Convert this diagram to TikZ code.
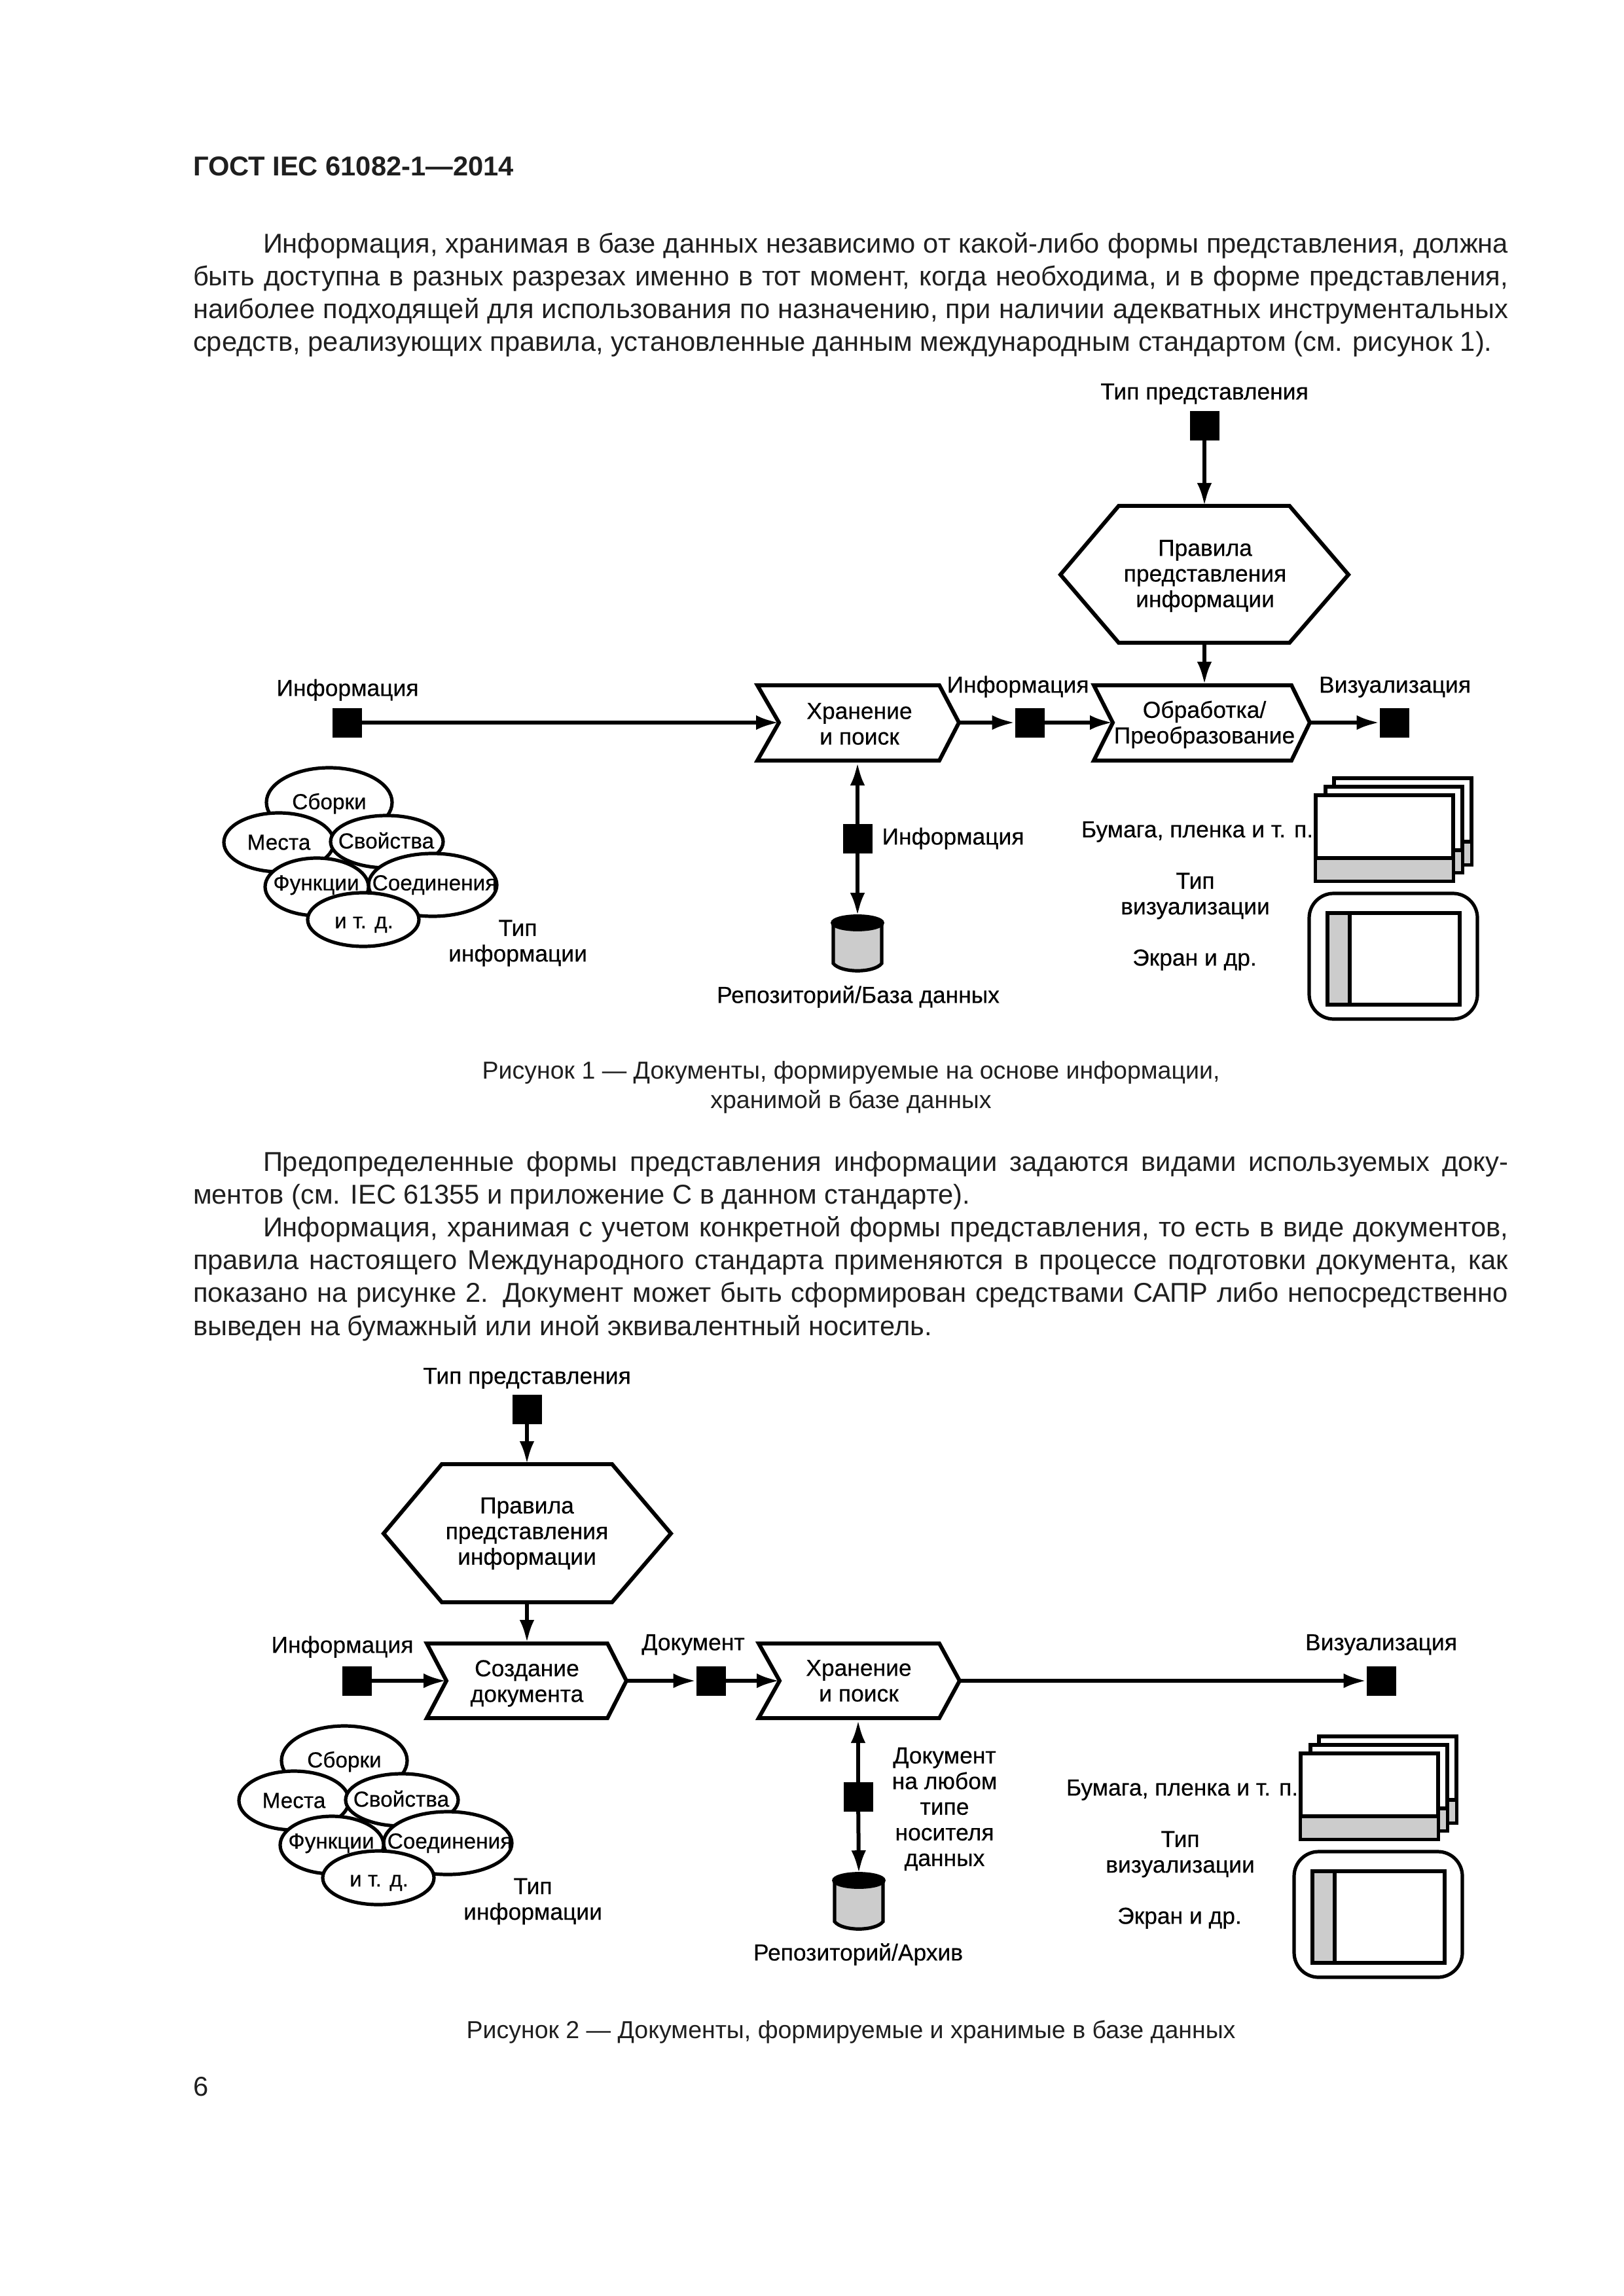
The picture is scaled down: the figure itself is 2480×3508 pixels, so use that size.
\documentclass[tikz,border=0pt]{standalone}
\usepackage{fontspec}
\setmainfont{Liberation Sans}
\newfontfamily\diagfam{Liberation Sans}[FakeBold=0.4]
\usetikzlibrary{arrows.meta,shapes.geometric}
\newcommand\bodyf{\fontsize{10}{12}\selectfont}
\newcommand\capf{\fontsize{9}{12}\selectfont}
\newcommand\diagf{\diagfam\fontsize{8.5}{9.4}\selectfont}
\newcommand\ellf{\diagfam\fontsize{8}{9.4}\selectfont}
\tikzset{
  txtline/.style={anchor=base west,inner sep=0pt,outer sep=0pt,font=\bodyf,text=black!88},
  captxt/.style={anchor=base,inner sep=0pt,outer sep=0pt,font=\capf,align=center,text=black!88},
  lab/.style={inner sep=0pt,outer sep=0pt,font=\diagf,align=center,text height=6.5pt,text depth=2pt},
  elab/.style={inner sep=0pt,outer sep=0pt,font=\ellf,align=center,text height=6.5pt,text depth=2pt},
  labm/.style={inner sep=0pt,outer sep=0pt,font=\diagf,align=center},
  outl/.style={draw=black,line width=1.44pt,fill=white,line join=miter},
  conn/.style={draw=black,line width=1.44pt},
  tipa/.style={-{Latex[length=8.4pt,width=5.4pt]}},
  sq/.style={fill=black,inner sep=0pt,outer sep=0pt,minimum width=10.8pt,minimum height=10.8pt},
  ell/.style={ellipse,draw=black,fill=white,line width=1.25pt,inner sep=0pt,outer sep=0pt},
  thin box/.style={draw=black,line width=1.25pt},
  grayfill/.style={fill=black!20},
}
% cluster of ellipses, placed by the surrounding scope
\newcommand\infocluster{%
  \node[ell,minimum width=46.08pt,minimum height=25.44pt] (e1) at (503,1226) {};
  \node[ell,minimum width=40.32pt,minimum height=21.6pt] (e2) at (426,1287) {};
  \node[ell,minimum width=41.28pt,minimum height=19.2pt] (e3) at (591,1286) {};
  \node[ell,minimum width=47.04pt,minimum height=23.04pt] (e5) at (661,1352) {};
  \node[ell,minimum width=37.92pt,minimum height=21.12pt] (e4) at (484,1355) {};
  \node[ell,minimum width=40.8pt,minimum height=19.68pt] (e6) at (555,1405) {};
  \node[elab] (t1) at (503,1227) {Сборки};
  \node[elab] (t2) at (426,1289) {Места};
  \node[elab] (t3) at (590,1287) {Свойства};
  \node[elab] (t4) at (483,1351) {Функции};
  \node[elab] (t5) at (664,1351) {Соединения};
  \node[elab] (t6) at (556,1409) {и т. д.};
  \node[labm] (t7) at (791,1441) {Тип\\информации};
}
% storage media pictures
\newcommand\mediapics{%
  \draw[thin box,fill=white] (2038,1189) rectangle (2248,1321);
  \path[grayfill] (2222,1286) rectangle (2246,1319);
  \draw[thin box] (2222,1286) -- (2248,1286);
  \draw[thin box,fill=white] (2025,1202) rectangle (2234,1333);
  \path[grayfill] (2210,1299) rectangle (2232,1331);
  \draw[thin box] (2210,1299) -- (2234,1299);
  \draw[thin box,fill=white] (2010,1215) rectangle (2220,1346);
  \path[grayfill] (2012,1311) rectangle (2218,1344);
  \draw[thin box] (2010,1311) -- (2220,1311);
  \draw[thin box,rounded corners=9pt] (2000,1365) rectangle (2257,1557);
  \path[grayfill] (2027,1395) rectangle (2062,1535);
  \draw[thin box] (2028,1395) rectangle (2230,1535);
  \draw[thin box] (2062,1395) -- (2062,1535);
  \node[lab] (m1) at (1829,1270) {Бумага, пленка и т. п.};
  \node[labm] (m2) at (1826,1369) {Тип\\визуализации};
  \node[lab] (m3) at (1825,1466) {Экран и др.};
}
\begin{document}
\begin{tikzpicture}[x=0.24pt,y=-0.24pt]
\useasboundingbox (0,0) rectangle (2480,3508);
\fill[white] (0,0) rectangle (2480,3508);
% page text
\node[txtline,font=\bodyf\bfseries] (head) at (295,269) {ГОСТ IEC 61082-1—2014};
\node[txtline] (l1) at (402,387) {\makebox[456.5pt][s]{Информация, хранимая в базе данных независимо от какой-либо формы представления, должна}};
\node[txtline] (l2) at (295,437) {\makebox[482.2pt][s]{быть доступна в разных разрезах именно в тот момент, когда необходима, и в форме представления,}};
\node[txtline] (l3) at (295,487) {\makebox[482.2pt][s]{наиболее подходящей для использования по назначению, при наличии адекватных инструментальных}};
\node[txtline] (l4) at (295,537) {средств, реализующих правила, установленные данным международным стандартом (см. рисунок 1).};
\node[captxt] (c1a) at (1300,1648) {Рисунок 1 — Документы, формируемые на основе информации,};
\node[captxt] (c1b) at (1300,1693) {хранимой в базе данных};
\node[txtline] (p1) at (402,1789) {\makebox[456.5pt][s]{Предопределенные формы представления информации задаются видами используемых доку-}};
\node[txtline] (p2) at (295,1839) {ментов (см. IEC 61355 и приложение С в данном стандарте).};
\node[txtline] (p3) at (402,1889) {\makebox[456.5pt][s]{Информация, хранимая с учетом конкретной формы представления, то есть в виде документов,}};
\node[txtline] (p4) at (295,1939) {\makebox[482.2pt][s]{правила настоящего Международного стандарта применяются в процессе подготовки документа, как}};
\node[txtline] (p5) at (295,1989) {\makebox[482.2pt][s]{показано на рисунке 2. Документ может быть сформирован средствами САПР либо непосредственно}};
\node[txtline] (p6) at (295,2040) {выведен на бумажный или иной эквивалентный носитель.};
\node[captxt] (c2) at (1300,3114) {Рисунок 2 — Документы, формируемые и хранимые в базе данных};
\node[txtline] (pg) at (295,3202) {6};

% ---------- Figure 1 ----------
\draw[outl] (1709,773) -- (1970,773) -- (2060,878) -- (1970,982) -- (1709,982) -- (1620,878) -- cycle;
\coordinate (ah1t) at (1840,773); \coordinate (ah1b) at (1840,982);
\node[labm] (ah1) at (1841,880) {Правила\\представления\\информации};
\draw[outl] (1157,1047) -- (1435,1047) -- (1465,1104) -- (1435,1162) -- (1157,1162) -- (1190,1104) -- cycle;
\coordinate (as1w) at (1190,1104); \coordinate (as1e) at (1465,1104); \coordinate (as1s) at (1310,1165);
\node[labm] (as1) at (1313,1106) {Хранение\\и поиск};
\draw[outl] (1671,1047) -- (1973,1047) -- (2001,1104) -- (1973,1162) -- (1671,1162) -- (1700,1104) -- cycle;
\coordinate (ap1w) at (1700,1104); \coordinate (ap1e) at (2001,1104); \coordinate (ap1n) at (1840,1046);
\node[labm] (ap1) at (1840,1107) {Обработка/\\Преобразование};
\node[sq] (asq1) at (530,1104) {};
\node[lab] (al1) at (531,1054) {Информация};
\node[sq] (asq2) at (1840,651) {};
\node[lab] (al2) at (1840,601) {Тип представления};
\node[sq] (asq3) at (1573,1104) {};
\node[lab] (al3) at (1555,1049) {Информация};
\node[sq] (asq4) at (2130,1104) {};
\node[lab] (al4) at (2131,1049) {Визуализация};
\node[sq] (asq5) at (1310,1281) {};
\node[lab] (al5) at (1456,1281) {Информация};
\draw[conn,tipa] (asq1) -- (as1w);
\draw[conn,tipa] (asq2) -- (ah1t);
\draw[conn,tipa] (ah1b) -- (ap1n);
\draw[conn,tipa] (as1e) -- (asq3);
\draw[conn,tipa] (asq3) -- (ap1w);
\draw[conn,tipa] (ap1e) -- (asq4);
\draw[conn,tipa] (asq5) -- (as1s);
% cylinder 1
\draw[thin box,grayfill] (1273,1410) -- (1273,1472) .. controls (1285,1487) and (1335,1487) .. (1347,1472) -- (1347,1410) -- cycle;
\node[ellipse,fill=black,draw=black,line width=1pt,inner sep=0pt,outer sep=0pt,minimum width=18.6pt,minimum height=5.2pt] (acyl) at (1310,1410) {};
\draw[conn,tipa] (asq5) -- (acyl.north);
\node[lab] (al6) at (1311,1523) {Репозиторий/База данных};
\begin{scope}[name prefix=a]\infocluster\mediapics\end{scope}

% ---------- Figure 2 ----------
\draw[outl] (675,2237) -- (935,2237) -- (1025,2343) -- (935,2448) -- (675,2448) -- (586,2343) -- cycle;
\coordinate (bh1t) at (805,2237); \coordinate (bh1b) at (805,2448);
\node[labm] (bh1) at (805,2343) {Правила\\представления\\информации};
\draw[outl] (652,2511) -- (928,2511) -- (957,2568) -- (928,2625) -- (652,2625) -- (682,2568) -- cycle;
\coordinate (bc1w) at (682,2568); \coordinate (bc1e) at (957,2568); \coordinate (bc1n) at (805,2510);
\node[labm] (bc1) at (805,2572) {Создание\\документа};
\draw[outl] (1159,2511) -- (1435,2511) -- (1466,2568) -- (1435,2625) -- (1159,2625) -- (1191,2568) -- cycle;
\coordinate (bs1w) at (1191,2568); \coordinate (bs1e) at (1466,2568); \coordinate (bs1s) at (1311,2628);
\node[labm] (bs1) at (1312,2568) {Хранение\\и поиск};
\node[sq] (bsq1) at (805,2153) {};
\node[lab] (bl1) at (805,2105) {Тип представления};
\node[sq] (bsq2) at (545,2568) {};
\node[lab] (bl2) at (523,2516) {Информация};
\node[sq] (bsq3) at (1086,2568) {};
\node[lab] (bl3) at (1059,2512) {Документ};
\node[sq] (bsq4) at (2110,2568) {};
\node[lab] (bl4) at (2110,2512) {Визуализация};
\node[sq] (bsq5) at (1311,2745) {};
\node[labm] (bl5) at (1443,2764) {Документ\\на любом\\типе\\носителя\\данных};
\draw[conn,tipa] (bsq1) -- (bh1t);
\draw[conn,tipa] (bh1b) -- (bc1n);
\draw[conn,tipa] (bsq2) -- (bc1w);
\draw[conn,tipa] (bc1e) -- (bsq3);
\draw[conn,tipa] (bsq3) -- (bs1w);
\draw[conn,tipa] (bs1e) -- (bsq4);
\draw[conn,tipa] (bsq5) -- (bs1s);
\draw[thin box,grayfill] (1275,2873) -- (1275,2936) .. controls (1287,2951) and (1337,2951) .. (1349,2936) -- (1349,2873) -- cycle;
\node[ellipse,fill=black,draw=black,line width=1pt,inner sep=0pt,outer sep=0pt,minimum width=18.6pt,minimum height=5.2pt] (bcyl) at (1312,2873) {};
\draw[conn,tipa] (bsq5) -- (bcyl.north);
\node[lab] (bl6) at (1311,2986) {Репозиторий/Архив};
\begin{scope}[shift={(23,1464)},name prefix=b]\infocluster\end{scope}
\begin{scope}[shift={(-23,1464)},name prefix=b]\mediapics\end{scope}
\end{tikzpicture}
\end{document}
